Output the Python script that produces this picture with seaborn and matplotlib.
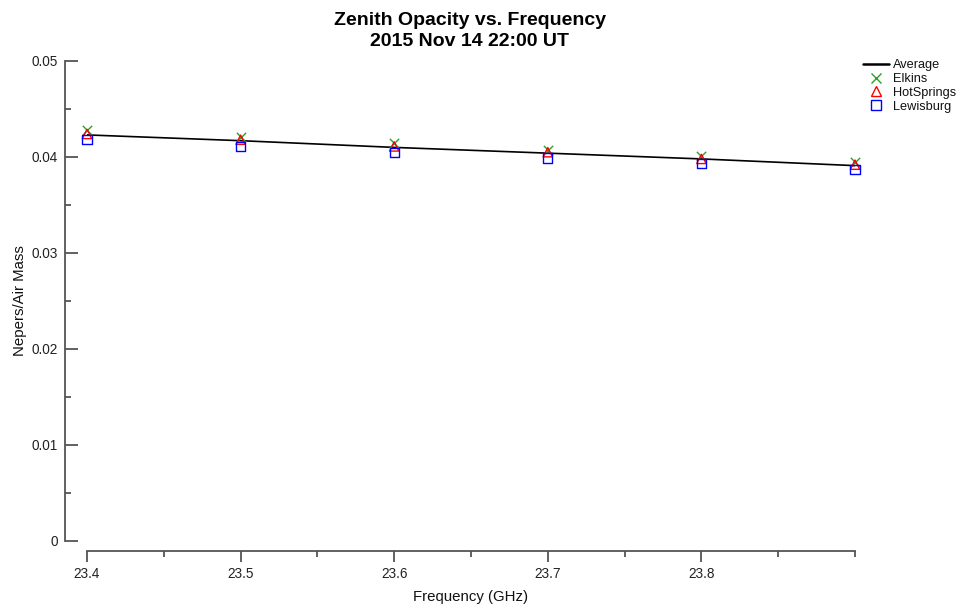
import matplotlib
matplotlib.use("Agg")
import matplotlib.pyplot as plt
from matplotlib.ticker import MultipleLocator, FixedLocator, FixedFormatter
from matplotlib.lines import Line2D
import seaborn as sns
import pandas as pd

# Zenith opacity per site, Nepers/Air Mass, at each K-band channel
freq_ghz = [23.4, 23.5, 23.6, 23.7, 23.8, 23.9]
average = [0.0423, 0.0417, 0.0410, 0.0404, 0.0398, 0.0391]
elkins = [0.0428, 0.0421, 0.0415, 0.0407, 0.0401, 0.0395]
hot_springs = [0.0424, 0.0418, 0.0411, 0.0405, 0.0398, 0.0392]
lewisburg = [0.0418, 0.0411, 0.0405, 0.0399, 0.0393, 0.0387]

x_tick_vals = [23.4, 23.5, 23.6, 23.7, 23.8]
x_tick_labels = ["23.4", "23.5", "23.6", "23.7", "23.8"]
y_tick_vals = [0, 0.01, 0.02, 0.03, 0.04, 0.05]
y_tick_labels = ["0", "0.01", "0.02", "0.03", "0.04", "0.05"]

sns.set_theme(style="white")
plt.rcParams["font.family"] = ["Liberation Sans", "DejaVu Sans"]
plt.rcParams["text.color"] = "#111111"
plt.rcParams["axes.labelcolor"] = "#111111"
plt.rcParams["xtick.labelcolor"] = "#222222"
plt.rcParams["ytick.labelcolor"] = "#222222"

sites = pd.DataFrame({
    "freq": freq_ghz * 3,
    "opacity": elkins + hot_springs + lewisburg,
    "site": ["Elkins"] * 6 + ["HotSprings"] * 6 + ["Lewisburg"] * 6,
})
avg_df = pd.DataFrame({"freq": freq_ghz, "opacity": average})

fig = plt.figure(figsize=(9.63, 6.08), dpi=100)
ax = fig.add_axes([87 / 963, (608 - 541) / 608, (855 - 87) / 963, (541 - 61) / 608])

sns.lineplot(data=avg_df, x="freq", y="opacity", color="black", linewidth=1.2,
             ax=ax, legend=False)

site_colors = {"Elkins": "#2ca02c", "HotSprings": "#ff0000", "Lewisburg": "#0000ff"}
site_markers = {"Elkins": "x", "HotSprings": "^", "Lewisburg": "s"}
for name in ["Elkins", "HotSprings", "Lewisburg"]:
    sub = sites[sites["site"] == name]
    mk = site_markers[name]
    kw = dict(color=site_colors[name], linewidth=1.0) if mk == "x" else \
        dict(facecolor="none", edgecolor=site_colors[name], linewidth=1.0)
    sns.scatterplot(data=sub, x="freq", y="opacity", marker=mk, s=45, ax=ax,
                    legend=False, zorder=3, clip_on=False, **kw)

ax.set_xlim(23.4, 23.9)
ax.set_ylim(0, 0.05)

ax.xaxis.set_major_locator(FixedLocator(x_tick_vals))
ax.xaxis.set_major_formatter(FixedFormatter(x_tick_labels))
ax.xaxis.set_minor_locator(MultipleLocator(0.05))
ax.yaxis.set_major_locator(FixedLocator(y_tick_vals))
ax.yaxis.set_major_formatter(FixedFormatter(y_tick_labels))
ax.yaxis.set_minor_locator(MultipleLocator(0.005))

for side in ["top", "right"]:
    ax.spines[side].set_visible(False)
ax.spines["left"].set_position(("outward", 16))
ax.spines["bottom"].set_position(("outward", 7))
for side in ["left", "bottom"]:
    ax.spines[side].set_color("#555555")
    ax.spines[side].set_linewidth(1.3)

ax.tick_params(axis="y", which="major", direction="in", length=9, width=1.3,
               color="#555555", labelsize=9.8, pad=5, left=True)
ax.tick_params(axis="y", which="minor", direction="in", length=4.5, width=1.3,
               color="#555555", left=True)
ax.tick_params(axis="x", which="major", direction="out", length=8, width=1.3,
               color="#555555", labelsize=9.8, pad=4, bottom=True)
ax.tick_params(axis="x", which="minor", direction="out", length=4, width=1.3,
               color="#555555", bottom=True)

ax.set_xlabel("Frequency (GHz)", fontsize=10.8, labelpad=6)
ax.set_ylabel("Nepers/Air Mass", fontsize=10.8, labelpad=3)

fig.text(0.488, 0.981, "Zenith Opacity vs. Frequency\n2015 Nov 14 22:00 UT",
         ha="center", va="top", fontsize=14, fontweight="bold", linespacing=1.35,
         color="black")

handles = [
    Line2D([], [], color="black", linewidth=1.8, label="Average"),
    Line2D([], [], color=site_colors["Elkins"], marker="x", linestyle="none",
           markersize=7, label="Elkins"),
    Line2D([], [], color=site_colors["HotSprings"], marker="^", linestyle="none",
           markerfacecolor="none", markersize=7, label="HotSprings"),
    Line2D([], [], color=site_colors["Lewisburg"], marker="s", linestyle="none",
           markerfacecolor="none", markersize=7, label="Lewisburg"),
]
fig.legend(handles=handles, loc="upper left", bbox_to_anchor=(858 / 963, 1 - 54 / 608),
           frameon=False, fontsize=9.2, handlelength=2.0, handletextpad=0.35,
           labelspacing=0.15, borderaxespad=0)

fig.savefig("out.png", dpi=100, facecolor="white")
